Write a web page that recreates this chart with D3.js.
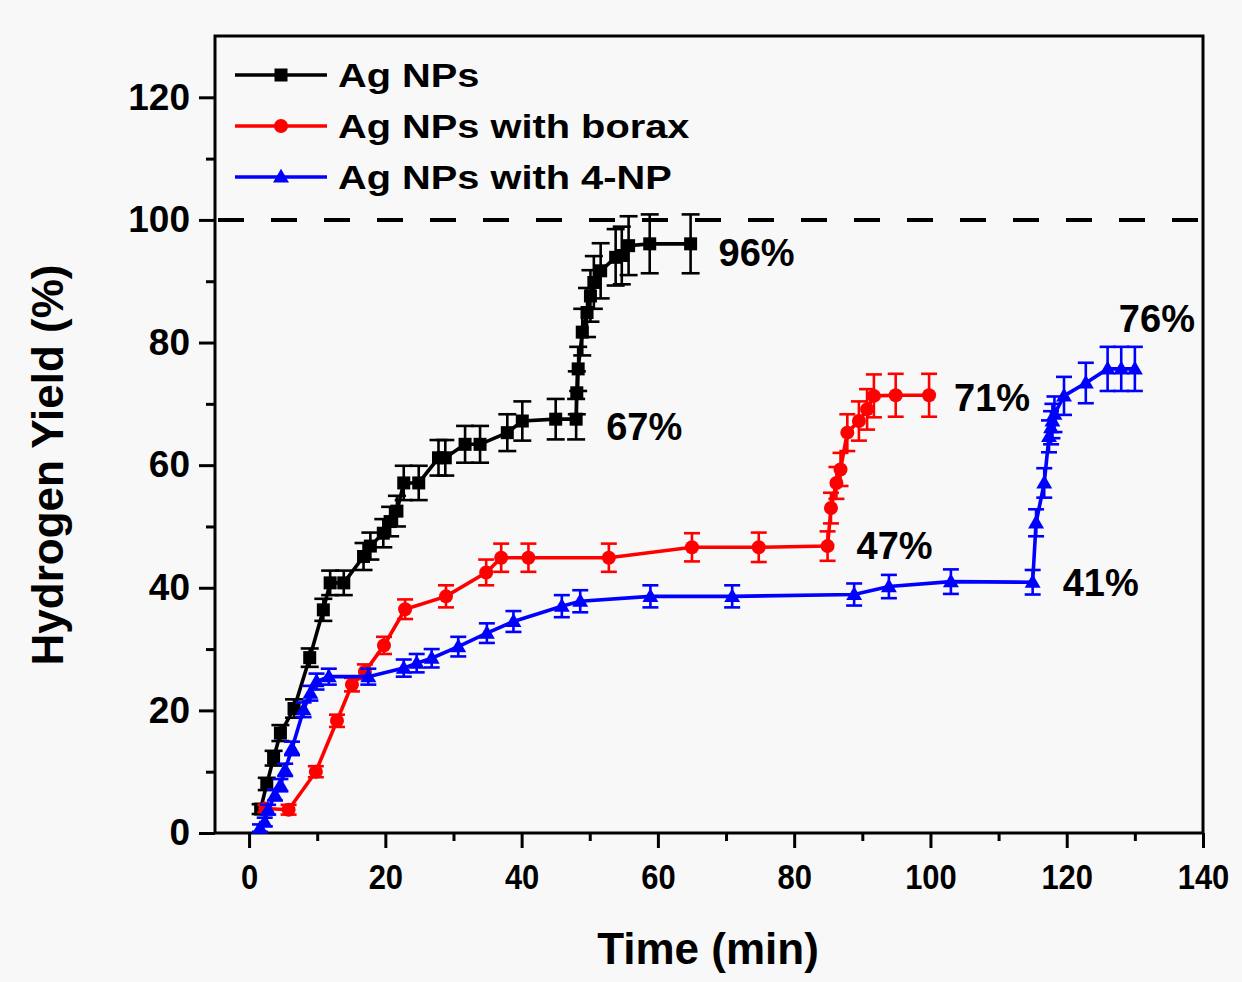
<!DOCTYPE html>
<html><head><meta charset="utf-8">
<script src="https://cdn.jsdelivr.net/npm/d3@7"></script>
<style>
body{margin:0;background:#f8f8f8;}
svg{display:block;}
text{font-family:"Liberation Sans",Arial,sans-serif;font-weight:bold;fill:#000;}
</style>
</head><body><svg id="c" width="1242" height="982"></svg>
<script>
// ---------- data ----------
const seriesNames = ["Ag NPs", "Ag NPs with borax", "Ag NPs with 4-NP"];
const seriesColors = ["#000000", "#ff0000", "#0000ff"];
const seriesMarkers = ["square", "circle", "triangle"];

const agT = [1.7,2.6,3.6,4.6,6.6,8.9,10.9,11.9,13.9,16.8,17.8,19.7,20.7,21.7,22.7,24.9,27.8,28.8,31.7,33.9,37.9,40.1,45.0,48.0,48.1,48.3,48.9,49.6,50.1,50.6,51.6,53.8,54.7,55.7,58.8,64.8];
const agY = [3.9,8.0,12.2,16.3,20.3,28.6,36.4,40.8,40.8,45.1,46.8,48.9,50.8,52.5,57.1,57.1,61.2,61.2,63.4,63.4,65.3,67.2,67.5,67.5,71.8,75.7,81.7,84.9,87.6,89.8,91.7,93.9,94.2,95.8,96.1,96.1];
const agErr = [0.8,1,1.2,1.3,1.5,1.5,1.8,2,2,2.2,2.2,2.3,2.4,2.5,2.8,2.8,2.9,2.9,3,3,3,3.2,3.3,3.3,3.5,3.6,3.8,4,4.2,4.3,4.5,4.6,4.7,4.8,4.8,4.8];

const boraxT = [2.4,5.8,9.8,12.9,15.1,17.0,19.8,22.9,28.9,34.8,37.0,41.0,52.8,65.0,74.8,84.9,85.4,86.2,86.8,87.8,89.5,90.7,91.7,94.9,99.8];
const boraxY = [4.0,3.8,10.0,18.3,24.2,26.3,30.6,36.5,38.6,42.5,44.9,44.9,44.9,46.6,46.6,46.8,53.0,57.1,59.3,65.3,67.2,69.1,71.3,71.4,71.4];
const boraxErr = [0.6,0.8,0.9,1,1.1,1.2,1.4,1.6,1.8,2.1,2.3,2.3,2.3,2.3,2.4,2.4,2.5,2.6,2.7,3.0,3.2,3.3,3.5,3.5,3.5];

const npT = [1.6,2.3,2.8,3.8,4.6,5.3,6.3,8.0,9.0,9.9,11.7,17.5,22.7,24.6,26.8,30.7,34.9,38.8,45.9,48.6,58.9,70.9,88.8,93.9,103.0,115.0,115.5,116.7,117.4,117.7,117.9,118.2,119.6,122.8,126.0,128.0,130.0];
const npY = [0.8,1.8,3.8,6.2,7.8,10.3,13.8,20.1,22.8,24.7,25.5,25.5,26.9,27.7,28.5,30.4,32.6,34.5,37.0,37.8,38.6,38.6,38.9,40.2,41.0,40.9,50.6,57.1,64.7,66.1,67.2,68.3,71.3,73.4,75.7,75.7,75.7];
const npErr = [0.6,0.7,0.8,0.9,1,1,1.1,1.2,1.2,1.3,1.3,1.3,1.4,1.5,1.5,1.6,1.6,1.7,1.8,1.8,1.8,1.8,1.8,1.9,2.0,2.0,2.2,2.4,2.6,2.7,2.8,2.9,3.1,3.3,3.6,3.6,3.6];

const referenceLevel = 100;
const xTicks = [0,20,40,60,80,100,120,140];
const xMinorTicks = [10,30,50,70,90,110,130];
const yTicks = [0,20,40,60,80,100,120];
const yMinorTicks = [10,30,50,70,90,110];
const xTitle = "Time (min)";
const yTitle = "Hydrogen Yield (%)";

// annotations: label text, series index, point index
const annText = ["96%", "67%", "47%", "71%", "41%", "76%"];
const annSeries = [0, 0, 1, 1, 2, 2];
const annPoint = [35, 23, 15, 24, 25, 36];

// ---------- drawing ----------
const series = [
  {t: agT, y: agY, e: agErr},
  {t: boraxT, y: boraxY, e: boraxErr},
  {t: npT, y: npY, e: npErr}
];

const L = 215, R = 1203, T = 36, B = 833;
const svg = d3.select("#c");
svg.append("rect").attr("width",1242).attr("height",982).attr("fill","#f8f8f8");

const x = d3.scaleLinear().domain([-5, 140]).range([L, R]);
const y = d3.scaleLinear().domain([0, 130]).range([B, T]);

// dashed reference line
svg.append("line")
  .attr("x1", L).attr("x2", R)
  .attr("y1", y(referenceLevel)).attr("y2", y(referenceLevel))
  .attr("stroke","#000").attr("stroke-width",4)
  .attr("stroke-dasharray","26 27").attr("stroke-dashoffset",-3);

// axes
const xAxis = svg.append("g").attr("transform",`translate(0,${B})`)
  .call(d3.axisBottom(x).tickValues(xTicks).tickSize(15).tickPadding(15).tickFormat(d3.format("d")));
const xMinor = svg.append("g").attr("transform",`translate(0,${B})`)
  .call(d3.axisBottom(x).tickValues(xMinorTicks).tickSize(8).tickFormat(""));
const yAxis = svg.append("g").attr("transform",`translate(${L},0)`)
  .call(d3.axisLeft(y).tickValues(yTicks).tickSize(16).tickPadding(9).tickFormat(d3.format("d")));
const yMinor = svg.append("g").attr("transform",`translate(${L},0)`)
  .call(d3.axisLeft(y).tickValues(yMinorTicks).tickSize(9).tickFormat(""));
[xAxis,xMinor,yAxis,yMinor].forEach(g=>{
  g.select(".domain").remove();
  g.selectAll(".tick line").attr("stroke","#000").attr("stroke-width",3);
});
xAxis.selectAll(".tick text").attr("font-size",36).attr("fill","#000")
  .attr("font-family","'Liberation Sans',Arial,sans-serif").attr("font-weight","bold")
  .attr("transform","scale(0.86,1)").attr("x",0);
yAxis.selectAll(".tick text").attr("font-size",37).attr("fill","#000")
  .attr("font-family","'Liberation Sans',Arial,sans-serif").attr("font-weight","bold");

// frame
svg.append("rect").attr("x",L).attr("y",T).attr("width",R-L).attr("height",B-T)
  .attr("fill","none").attr("stroke","#000").attr("stroke-width",3);

// series
const line = d3.line().x(d=>x(d[0])).y(d=>y(d[1]));
function drawMarker(g, type, cx, cy, color){
  if(type==="square"){
    g.append("rect").attr("x",cx-6.5).attr("y",cy-6.5).attr("width",13).attr("height",13).attr("fill",color);
  } else if(type==="circle"){
    g.append("circle").attr("cx",cx).attr("cy",cy).attr("r",7).attr("fill",color);
  } else {
    g.append("path").attr("d",d3.symbol().type(d3.symbolTriangle).size(110)()).attr("transform",`translate(${cx},${cy+1})`).attr("fill",color);
  }
}
const capW = [9, 8, 8];
series.forEach((s, si)=>{
  const color = seriesColors[si];
  const g = svg.append("g");
  const pts = s.t.map((t,i)=>[t, s.y[i], s.e[i]]);
  pts.forEach(p=>{
    const px = x(p[0]), y1 = y(p[1]+p[2]), y2 = y(p[1]-p[2]);
    g.append("line").attr("x1",px).attr("x2",px).attr("y1",y1).attr("y2",y2).attr("stroke",color).attr("stroke-width",2.6);
    g.append("line").attr("x1",px-capW[si]).attr("x2",px+capW[si]).attr("y1",y1).attr("y2",y1).attr("stroke",color).attr("stroke-width",2.6);
    g.append("line").attr("x1",px-capW[si]).attr("x2",px+capW[si]).attr("y1",y2).attr("y2",y2).attr("stroke",color).attr("stroke-width",2.6);
  });
  g.append("path").datum(pts).attr("d",line).attr("fill","none").attr("stroke",color).attr("stroke-width",3.6);
  pts.forEach(p=>drawMarker(g, seriesMarkers[si], x(p[0]), y(p[1]), color));
});

// annotations
const annDx = [28, 30, 29, 25, 30, -16];
const annDy = [8, 7, -1, 2, 0, -51];
annText.forEach((txt,i)=>{
  const s = series[annSeries[i]], k = annPoint[i];
  svg.append("text").attr("x", x(s.t[k]) + annDx[i]).attr("y", y(s.y[k]) + annDy[i])
    .attr("dy","0.36em").attr("font-size",38).text(txt);
});

// legend
const legY = [75, 126, 177];
seriesNames.forEach((name,i)=>{
  const g = svg.append("g");
  g.append("line").attr("x1",235).attr("x2",327).attr("y1",legY[i]).attr("y2",legY[i])
    .attr("stroke",seriesColors[i]).attr("stroke-width",3.6);
  drawMarker(g, seriesMarkers[i], 281, legY[i], seriesColors[i]);
  g.append("text").attr("transform",`translate(338,${legY[i]}) scale(1.17,1)`)
    .attr("dy","0.36em").attr("font-size",34).text(name);
});

// axis titles
svg.append("text").attr("transform","translate(708,948)")
  .attr("text-anchor","middle").attr("dy","0.36em").attr("font-size",44).text(xTitle);
svg.append("text").attr("transform","translate(47,465) rotate(-90)")
  .attr("text-anchor","middle").attr("dy","0.36em").attr("font-size",44).text(yTitle);
</script>
</body></html>
